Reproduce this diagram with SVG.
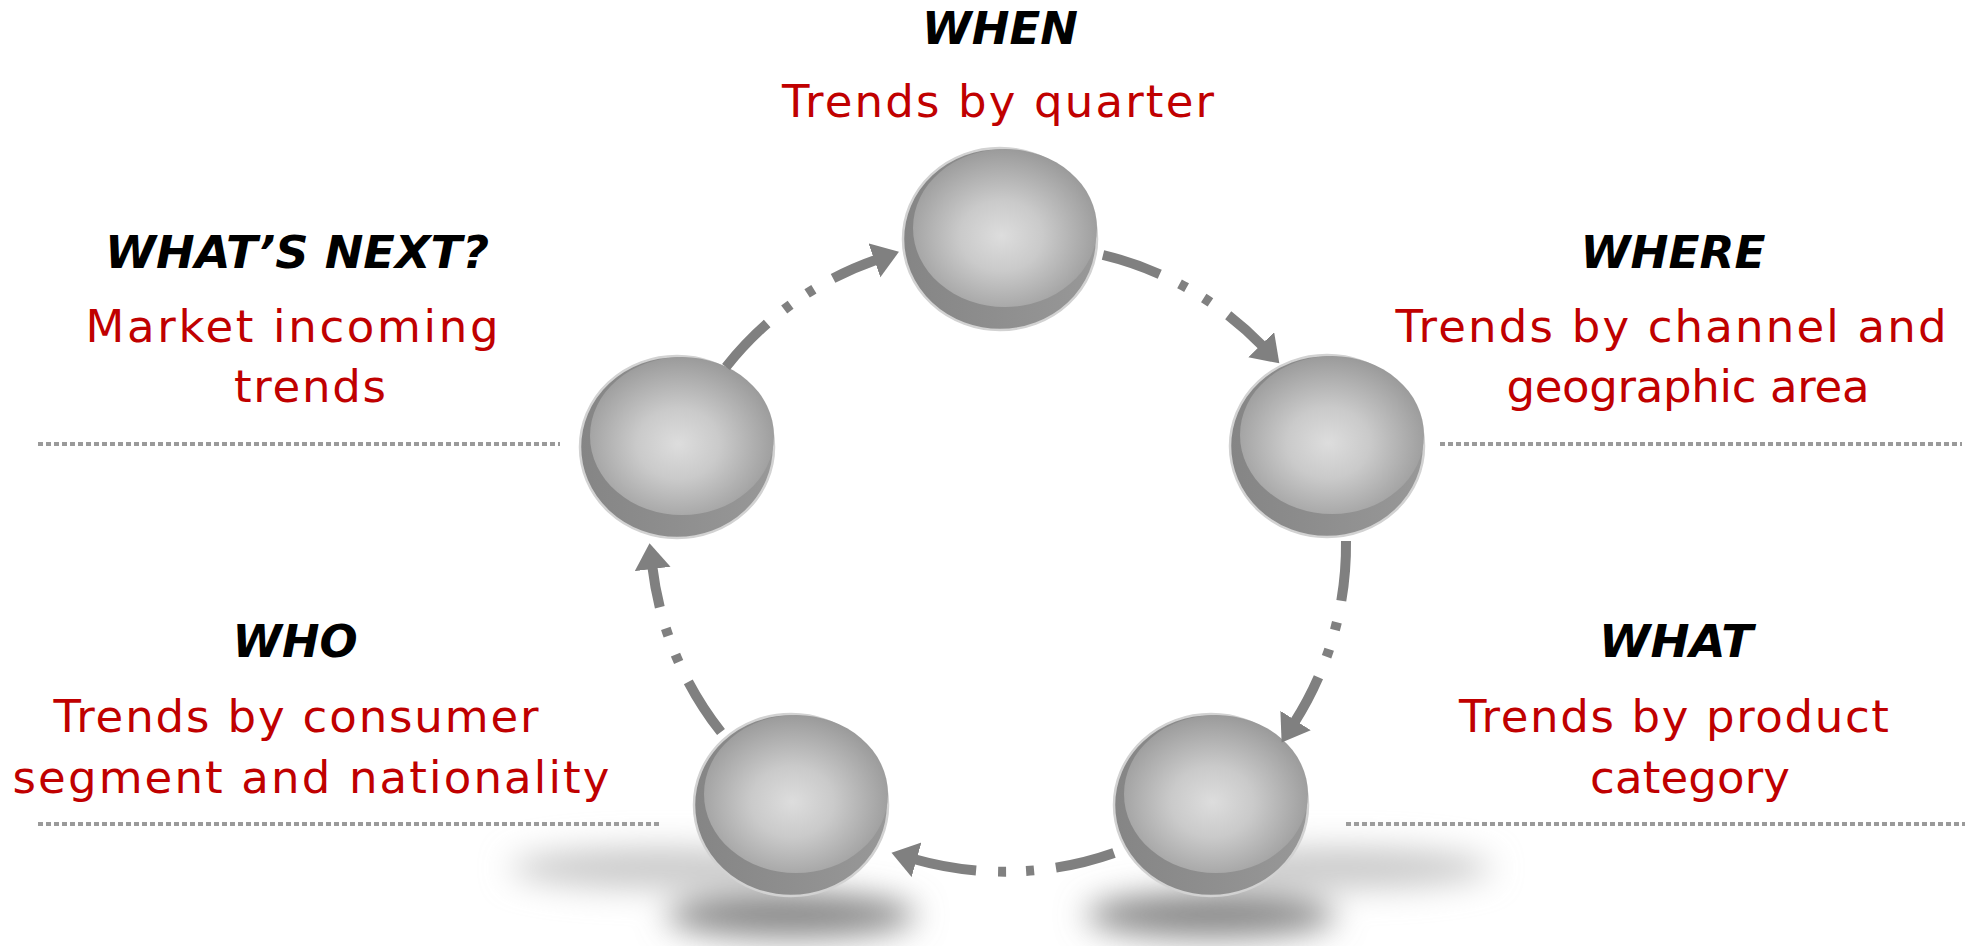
<svg xmlns="http://www.w3.org/2000/svg" width="1972" height="946" viewBox="0 0 1972 946">
  <style>
    .hd { font-family: "DejaVu Sans", Verdana, sans-serif; font-weight: bold; font-style: italic; font-size: 44px; fill: #000; text-anchor: middle; }
    .rd { font-family: "DejaVu Sans", "Liberation Sans", sans-serif; font-size: 45px; fill: #c00000; text-anchor: middle; }
    .dots { stroke: #9a9a9a; stroke-width: 4; stroke-dasharray: 5 3; fill: none; }
    .arr { fill: none; stroke: #808080; stroke-width: 10; stroke-dasharray: 60 22 8 20 8 22 1000 0; marker-end: url(#head); }
    .side { fill: url(#sideGrad); stroke: #d2d2d2; stroke-width: 2.5; }
    .face { fill: url(#faceGrad); }
  </style>
  <defs>
    <radialGradient id="faceGrad" cx="0.48" cy="0.55" r="0.56">
      <stop offset="0" stop-color="#dddddd"/>
      <stop offset="0.4" stop-color="#cacaca"/>
      <stop offset="1" stop-color="#999999"/>
    </radialGradient>
    <linearGradient id="sideGrad" x1="0" y1="0" x2="1" y2="0">
      <stop offset="0" stop-color="#858585"/>
      <stop offset="1" stop-color="#989898"/>
    </linearGradient>
    <filter id="blur" x="-50%" y="-150%" width="200%" height="400%">
      <feGaussianBlur stdDeviation="16"/>
    </filter>
    <marker id="head" markerUnits="userSpaceOnUse" markerWidth="30" markerHeight="40" refX="2" refY="18" orient="auto">
      <path d="M0,0 L26,18 L0,36 Z" fill="#808080"/>
    </marker>
  </defs>

  <rect width="1972" height="946" fill="#fff"/>

  <g id="separators">
    <line class="dots" x1="38" y1="444" x2="560" y2="444"/>
    <line class="dots" x1="1440" y1="444" x2="1962" y2="444"/>
    <line class="dots" x1="38" y1="824" x2="660" y2="824"/>
    <line class="dots" x1="1346" y1="824" x2="1965" y2="824"/>
  </g>

  <g id="shadows" filter="url(#blur)">
    <ellipse cx="660" cy="868" rx="150" ry="20" fill="#c8c8c8"/>
    <ellipse cx="1342" cy="868" rx="150" ry="20" fill="#c8c8c8"/>
    <ellipse cx="791" cy="915" rx="125" ry="22" fill="#858585"/>
    <ellipse cx="1211" cy="915" rx="125" ry="22" fill="#858585"/>
  </g>

  <g id="node-when">
    <ellipse class="side" cx="1000" cy="239" rx="97" ry="91"/>
    <ellipse class="face" cx="1005" cy="228" rx="92" ry="79"/>
  </g>
  <g id="node-where">
    <ellipse class="side" cx="1327" cy="446" rx="97" ry="91"/>
    <ellipse class="face" cx="1332" cy="435" rx="92" ry="79"/>
  </g>
  <g id="node-what">
    <ellipse class="side" cx="1211" cy="805" rx="97" ry="91"/>
    <ellipse class="face" cx="1216" cy="794" rx="92" ry="79"/>
  </g>
  <g id="node-who">
    <ellipse class="side" cx="791" cy="805" rx="97" ry="91"/>
    <ellipse class="face" cx="796" cy="794" rx="92" ry="79"/>
  </g>
  <g id="node-next">
    <ellipse class="side" cx="677" cy="447" rx="97" ry="91"/>
    <ellipse class="face" cx="682" cy="436" rx="92" ry="79"/>
  </g>

  <g id="connectors">
    <path class="arr" d="M1103,255 A330,330 0 0 1 1262.6,346.1"/>
    <path class="arr" d="M1346,541 A330,330 0 0 1 1294.5,722.2"/>
    <path class="arr" d="M1114,853 A330,330 0 0 1 914.6,859.2"/>
    <path class="arr" d="M721,732 A330,330 0 0 1 652.4,567"/>
    <path class="arr" d="M726,367 A330,330 0 0 1 876.3,259.7"/>
  </g>

  <g id="label-when">
    <text class="hd" x="1000" y="44" textLength="156" lengthAdjust="spacingAndGlyphs">WHEN</text>
    <text class="rd" x="998" y="117" textLength="432" lengthAdjust="spacing">Trends by quarter</text>
  </g>
  <g id="label-where">
    <text class="hd" x="1673" y="268" textLength="185" lengthAdjust="spacingAndGlyphs">WHERE</text>
    <text class="rd" x="1671" y="342" textLength="551" lengthAdjust="spacing">Trends by channel and</text>
    <text class="rd" x="1688" y="402" textLength="363" lengthAdjust="spacing">geographic area</text>
  </g>
  <g id="label-what">
    <text class="hd" x="1676" y="657" textLength="154" lengthAdjust="spacingAndGlyphs">WHAT</text>
    <text class="rd" x="1674" y="732" textLength="430" lengthAdjust="spacing">Trends by product</text>
    <text class="rd" x="1690" y="793" textLength="200" lengthAdjust="spacing">category</text>
  </g>
  <g id="label-who">
    <text class="hd" x="295" y="657" textLength="125" lengthAdjust="spacingAndGlyphs">WHO</text>
    <text class="rd" x="296" y="732" textLength="485" lengthAdjust="spacing">Trends by consumer</text>
    <text class="rd" x="311" y="793" textLength="597" lengthAdjust="spacing">segment and nationality</text>
  </g>
  <g id="label-next">
    <text class="hd" x="297" y="268" textLength="384" lengthAdjust="spacingAndGlyphs">WHAT’S NEXT?</text>
    <text class="rd" x="292" y="342" textLength="413" lengthAdjust="spacing">Market incoming</text>
    <text class="rd" x="310" y="402" textLength="152" lengthAdjust="spacing">trends</text>
  </g>
</svg>
